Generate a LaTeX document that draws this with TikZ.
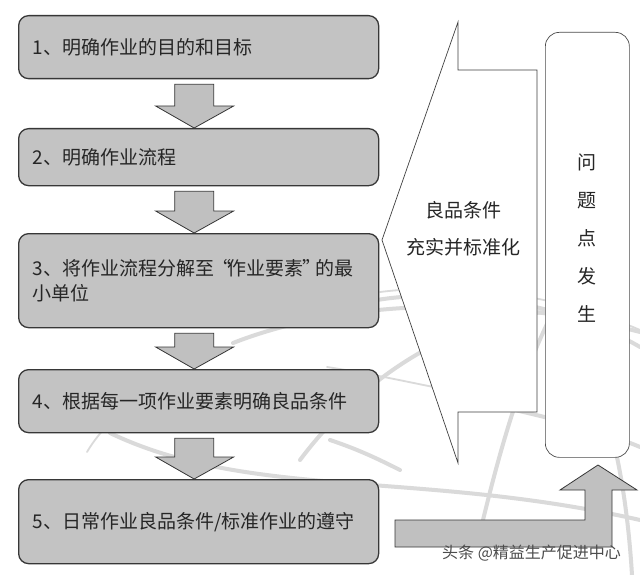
\documentclass[tikz,border=0pt]{standalone}
\usepackage{fontspec}
\newfontfamily\cjk{Noto Sans CJK SC}
\usetikzlibrary{calc}
\definecolor{boxgray}{RGB}{195,195,195}
\definecolor{arrowgray}{RGB}{192,192,192}
\definecolor{edgedark}{RGB}{55,55,55}
\definecolor{globeline}{RGB}{218,218,218}
\tikzset{
  stepbox/.style={draw=edgedark, line width=1.3pt, fill=boxgray, rounded corners=10pt,
    anchor=north west, minimum width=360pt, text width=332pt, inner xsep=14pt,
    align=left, font=\cjk\fontsize{19}{25}\selectfont, text=black!85},
  blockarrow/.style={draw=edgedark, line width=0.8pt, fill=arrowgray, line join=miter},
  globe/.style={draw=globeline, line width=4pt, line cap=round},
  thinglobe/.style={draw=globeline, line width=1.8pt, line cap=round},
  label/.style={font=\cjk\fontsize{19}{25}\selectfont, text=black!85, inner sep=0pt},
}
\newcommand\blockdown[2]{%
  \draw[blockarrow] let \p1=(#1.south), \p2=(#2.north) in
    (\x1-24pt,\y1-5pt) -- (\x1+15pt,\y1-5pt) -- (\x1+15pt,\y2+22pt) -- (\x1+35pt,\y2+22pt)
    -- (\x1-4.5pt,\y2) -- (\x1-43pt,\y2+22pt) -- (\x1-24pt,\y2+22pt) -- cycle;}
\begin{document}
\begin{tikzpicture}[x=1pt,y=-1pt]
\useasboundingbox[fill=white] (0,0) rectangle (640,575);
% background globe lines
\draw[globe] (233,343) .. controls (330,305) and (480,290) .. (640,332);
\draw[globe] (377,300) .. controls (450,288) and (560,300) .. (640,347);
\draw[thinglobe] (380,292) .. controls (460,282) and (560,295) .. (640,330);
\draw[globe] (300,460) .. controls (360,380) and (450,320) .. (545,312);
\draw[thinglobe] (327,367) .. controls (380,375) and (420,385) .. (460,392);
\draw[globe] (483,520) .. controls (500,450) and (520,380) .. (548,322);
\draw[globe] (553,313) .. controls (600,360) and (625,460) .. (632,575);
\draw[globe] (483,403) .. controls (540,415) and (600,430) .. (640,447);
\draw[globe] (110,433) .. controls (250,500) and (420,470) .. (640,520);
\draw[thinglobe] (87,452) .. controls (100,430) and (120,410) .. (150,395);
\draw[globe] (330,440) .. controls (360,450) and (380,460) .. (400,470);
% left column
\node[stepbox, minimum height=63pt] (b1) at (18,15) {1、明确作业的目的和目标};
\node[stepbox, minimum height=57pt] (b2) at (18,128) {2、明确作业流程};
\node[stepbox, minimum height=94pt] (b3) at (18,233) {3、将作业流程分解至\kern-2pt“\kern-4pt作业要素\kern-1pt”\kern-6pt的最\\小单位};
\node[stepbox, minimum height=63pt] (b4) at (18,369) {4、根据每一项作业要素明确良品条件};
\node[stepbox, minimum height=84pt] (b5) at (18,479) {5、日常作业良品条件/标准作业的遵守};
\blockdown{b1}{b2}
\blockdown{b2}{b3}
\blockdown{b3}{b4}
\blockdown{b4}{b5}
% callout
\draw[draw=black!75, line width=0.7pt, fill=white, line join=miter]
  (458,22) -- (458,70) -- (537,70) -- (537,412) -- (458,412) -- (458,463) -- (382,240) -- cycle;
\node[label] (c1) at (463,210) {良品条件};
\node[label] (c2) at (463,247) {充实并标准化};
% problem box
\node[draw=black!70, line width=0.7pt, fill=white, rounded corners=14pt, anchor=north west,
  minimum width=84pt, minimum height=425pt] (prob) at (545,32) {};
\node[label, align=center, font=\cjk\fontsize{19}{38}\selectfont] (ptxt) at (587,238) {问\\题\\点\\发\\生};
% bottom L arrow
\coordinate (ltip) at (598,465);
\draw[blockarrow] (395,520) -- (585,520) -- (585,490) -- (560,490) -- (ltip) -- (637,490)
  -- (612,490) -- (612,547) -- (395,547) -- cycle;
% watermark
\node[font=\cjk\fontsize{16}{18}\selectfont, text=black!70, anchor=west, inner sep=0pt] (wm) at (442,553) {头条 @精益生产促进中心};
\end{tikzpicture}
\end{document}
